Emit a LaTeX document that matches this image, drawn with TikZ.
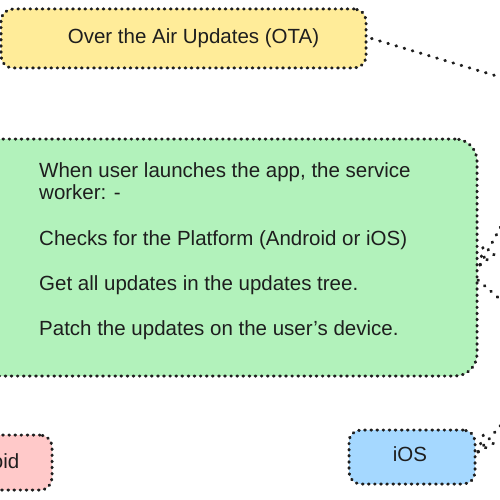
\documentclass[tikz,border=0pt]{standalone}
\usepackage{fontspec}
\setmainfont{Liberation Sans}
\definecolor{ink}{HTML}{1E1E1E}
\definecolor{otafill}{HTML}{FFEC99}
\definecolor{greenfill}{HTML}{B2F2BB}
\definecolor{redfill}{HTML}{FFC9C9}
\definecolor{bluefill}{HTML}{A5D8FF}
\tikzset{
  dotbase/.style={draw=ink, line width=3pt, line cap=round},
  dotline/.style={dotbase, dash pattern=on 0.7pt off 7.8pt},
  box/.style={dotbase, dash pattern=on 0.7pt off 5.4pt, rounded corners=12pt, inner sep=0pt},
  txt/.style={text=ink, font=\fontsize{20.5}{22.5}\selectfont, inner sep=0pt}
}
\begin{document}
\begin{tikzpicture}[x=1pt,y=-1pt]
\useasboundingbox (0,0) rectangle (500,500);
\clip (0,0) rectangle (500,500);
% boxes
\node[box, fill=otafill, minimum width=365pt, minimum height=59pt] (ota) at (183.5,38.5) {};
\node[box, fill=greenfill, rounded corners=22pt, minimum width=507pt, minimum height=237pt] (green) at (223.5,257.5) {};
\node[box, fill=redfill, minimum width=137pt, minimum height=55pt] (android) at (-16.5,462.5) {};
\node[box, fill=bluefill, minimum width=126pt, minimum height=54pt] (ios) at (412,457) {};
% texts
\node[txt, anchor=base] (otat) at (193.5,44) {Over the Air Updates (OTA)};
\node[txt, anchor=base west] (g1) at (39,177) {When user launches the app, the service};
\node[txt, anchor=base west] (g2) at (39,199.5) {worker: -};
\node[txt, anchor=base west] (g3) at (39,245) {Checks for the Platform (Android or iOS)};
\node[txt, anchor=base west] (g4) at (39,290) {Get all updates in the updates tree.};
\node[txt, anchor=base west] (g5) at (39,335) {Patch the updates on the user's device.};
\node[txt, anchor=base] (androidt) at (-16,468) {Android};
\node[txt, anchor=base] (iost) at (410,461.5) {iOS};
% connectors
\coordinate (otaEnd) at (530,86);
\draw[dotline] ([xshift=4pt]ota.east) -- (otaEnd);
\coordinate (gTip) at (480,265);
\coordinate (gFrom) at (512,206);
\coordinate (gB1) at (483,247);
\coordinate (gB2) at (496,253);
\draw[dotline] (gTip) -- (gFrom);
\draw[dotline] (gTip) -- (gB1);
\draw[dotline] (gTip) -- (gB2);
\coordinate (gTail) at (478,280);
\coordinate (gOut) at (525,321);
\draw[dotline] (gTail) -- (gOut);
\coordinate (iTip) at (478,452);
\coordinate (iFrom) at (512,412);
\coordinate (iB1) at (484,433);
\coordinate (iB2) at (495,442.5);
\draw[dotline] (iTip) -- (iFrom);
\draw[dotline] (iTip) -- (iB1);
\draw[dotline] (iTip) -- (iB2);
\end{tikzpicture}
\end{document}
